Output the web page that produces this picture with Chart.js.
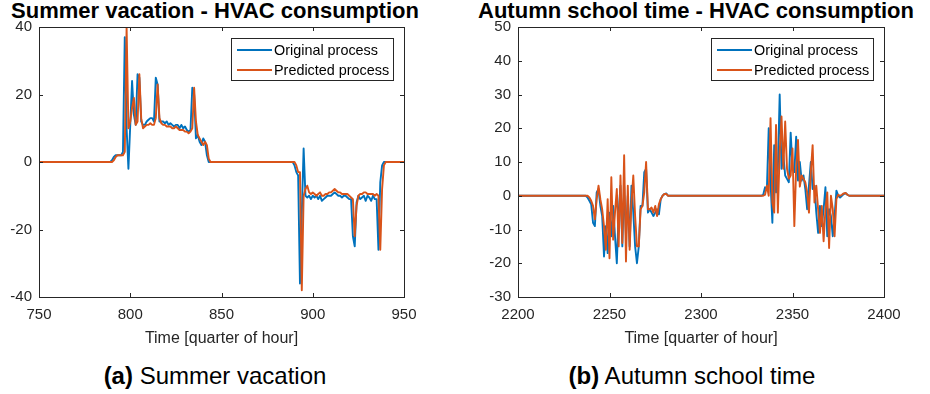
<!DOCTYPE html>
<html>
<head>
<meta charset="utf-8">
<script src="https://cdn.jsdelivr.net/npm/chart.js@4.4.1/dist/chart.umd.min.js"></script>
<style>
  html, body { margin: 0; padding: 0; background: #fff; }
  body { width: 930px; height: 394px; position: relative; overflow: hidden;
         font-family: "Liberation Sans", Arial, Helvetica, sans-serif; }
  canvas { position: absolute; top: 0; }
  .title { position: absolute; top: 0; font-weight: bold; font-size: 22px; line-height: 22px;
           color: #000; white-space: nowrap; transform: translateX(-50%); }
  .caption { position: absolute; top: 364px; font-size: 24px; line-height: 24px;
             color: #000; white-space: nowrap; transform: translateX(-50%); }
</style>
</head>
<body>
<div class="title" style="left:215px">Summer vacation - HVAC consumption</div>
<div class="title" style="left:696px">Autumn school time - HVAC consumption</div>
<div class="caption" style="left:215px"><b>(a)</b> Summer vacation</div>
<div class="caption" style="left:692px"><b>(b)</b> Autumn school time</div>
<canvas id="summer" width="440" height="394" style="left:0"></canvas>
<canvas id="autumn" width="490" height="394" style="left:440px"></canvas>
<script>
// ---- data -------------------------------------------------------------
const seriesNames = ['Original process', 'Predicted process'];
const seriesColors = ['#0072BD', '#D95319'];
const xAxisTitle = 'Time [quarter of hour]';

// Summer vacation, quarter-hours 750..950
const summerStart = 750;
const summerOriginal = [
  0,0,0,0,0,0,0,0,0,0, 0,0,0,0,0,0,0,0,0,0,
  0,0,0,0,0,0,0,0,0,0, 0,0,0,0,0,0,0,0,0,0,
  0.5,1.5,2,2,2,2,3,37,10,-2,
  11,24,14,11,26,25,12,11,11,12,
  12.5,13,13,12,25,23,12,12,12,11.5,
  12,11,11.5,11,10.5,11,11,10,11,10,
  10.5,9.5,9,9.5,22,20,7,8,6,5,
  7,6,2,0,0,0,0,0,0,0,
  0,0,0,0,0,0,0,0,0,0, 0,0,0,0,0,0,0,0,0,0,
  0,0,0,0,0,0,0,0,0,0, 0,0,0,0,0,0,0,0,0,0,
  -1,-3,-4,-36,-15,4,-10,-10.5,-10,-11,
  -10,-10.5,-10,-11,-10,-11.5,-11,-10.5,-10,-10,
  -10,-9.5,-9,-9.5,-10,-10,-10.5,-10,-10,-10.5,
  -11,-11,-22,-25,-12,-10,-11,-10.5,-10,-11.5,
  -10,-10.5,-11.5,-10,-11,-11,-26,-6,-1,0,
  0,0,0,0,0,0,0,0,0,0,0
];
const summerPredicted = [
  0,0,0,0,0,0,0,0,0,0, 0,0,0,0,0,0,0,0,0,0,
  0,0,0,0,0,0,0,0,0,0, 0,0,0,0,0,0,0,0,0,0,
  0,0.5,1.5,2,2,2,2,3,40,10,
  12,16,19,11,12,26,13,10,10.5,11,
  11,11.5,11,11,13,23,13,11.5,11,11,
  10.5,10.5,10.5,10,10,10.5,10,9.5,9.5,9.5,
  9,9,8.5,9,10,22,12,8,7,6,
  5,6,5,1,0,0,0,0,0,0,
  0,0,0,0,0,0,0,0,0,0, 0,0,0,0,0,0,0,0,0,0,
  0,0,0,0,0,0,0,0,0,0, 0,0,0,0,0,0,0,0,0,0,
  0,-1,-3,-3,-38,-10,-8,-7,-9,-9.5,
  -9,-9.5,-10,-9.5,-9,-10,-10,-9.5,-9.5,-9,
  -9,-8.5,-8,-8.5,-9,-9,-9.5,-9.5,-9.5,-9.5,
  -10,-10.5,-11,-22,-13,-10,-9.5,-9.5,-9,-9,
  -9.5,-9.5,-9.5,-9.5,-10,-9.5,-10,-26,-8,-1,
  0,0,0,0,0,0,0,0,0,0,0
];
const summerXTicks = [750, 800, 850, 900, 950];
const summerYTicks = [-40, -20, 0, 20, 40];

// Autumn school time, quarter-hours 2200..2400
const autumnStart = 2200;
const autumnOriginal = [
  0,0,0,0,0,0,0,0,0,0, 0,0,0,0,0,0,0,0,0,0, 0,0,0,0,0,0,0,0,0,0,
  0,0,0,0,0,0,0,0,
  -0.5,-1.5,-2.5,-8,-9,1,2,-3,-6,-18,
  -9,-17,-5,-12,-3,-12,-20,-5,3,-15,
  3,-12,0,-15,3,-5,-15,-20,-15,-3,
  -3,7,8,-5,-4,-5,-6,-5,-4,-5.5,
  -1,0,0.5,0.7,0,
  0,0,0,0,0,0,0,0,0,0, 0,0,0,0,0,0,0,0,0,0, 0,0,0,0,0,0,0,0,0,0,
  0,0,0,0,0,0,0,0,0,0, 0,0,0,0,0,0,0,0,0,0,
  0,0.3,2.5,2,20,4,-8,15,1,8,
  30,8,12,6,5,4,18.7,8,7,17.5,
  4.5,10,4.5,6,2,-4,3,10,2,3,
  -5,-11,-3,-9,-4,2.5,-12,-4,-6,-12,
  -6,1.5,0,-0.5,0,0.5,0.8,0.3,0,
  0,0,0,0,0,0,0,0,0,0, 0,0,0,0,0,0,0,0,0
];
const autumnPredicted = [
  0,0,0,0,0,0,0,0,0,0, 0,0,0,0,0,0,0,0,0,0, 0,0,0,0,0,0,0,0,0,0,
  0,0,0,0,0,0,0,0,
  0,-0.5,-1.5,-3,-7,-1,3,-1,-4,-9,
  -16,-1,-18.5,5.5,-13,-5,2,-15,6,-14,
  12,-19.5,3,-16,-2,6,-6,-15,-15,-4,
  -3,1,10,-4,-4,-3.5,-5,-3,-6,-2.5,
  -1,0,0.5,0.5,0,
  0,0,0,0,0,0,0,0,0,0, 0,0,0,0,0,0,0,0,0,0, 0,0,0,0,0,0,0,0,0,0,
  0,0,0,0,0,0,0,0,0,0, 0,0,0,0,0,0,0,0,0,0, 0,
  0,0.3,3,0,23,-2,-5,21,-5,13,
  23.5,8,22,8,5,6,14,-9,8,16.5,
  2.7,6,5,4,1,-5,7,15,-2,3,
  -4,-11,-3,-13.5,-4,1,-15.5,0,-4,-12,
  -1,0.3,0,0.3,0.7,0.8,0.3,0,
  0,0,0,0,0,0,0,0,0,0, 0,0,0,0,0,0,0,0,0
];
const autumnXTicks = [2200, 2250, 2300, 2350, 2400];
const autumnYTicks = [-30, -20, -10, 0, 10, 20, 30, 40, 50];

// ---- drawing helpers --------------------------------------------------
const FONT = '"Liberation Sans", Arial, Helvetica, sans-serif';
const INK = '#262626';

// Boxed axes with inward tick marks on all four sides
const axesBox = {
  id: 'axesBox',
  afterDatasetsDraw(chart) {
    const { ctx, chartArea: a, scales: { x, y } } = chart;
    const len = 4;
    ctx.save();
    ctx.strokeStyle = INK;
    ctx.lineWidth = 1;
    ctx.strokeRect(a.left + 0.5, a.top + 0.5, a.right - a.left, a.bottom - a.top);
    ctx.beginPath();
    x.ticks.forEach(t => {
      const px = Math.round(x.getPixelForValue(t.value)) + 0.5;
      ctx.moveTo(px, a.bottom); ctx.lineTo(px, a.bottom - len);
      ctx.moveTo(px, a.top); ctx.lineTo(px, a.top + len);
    });
    y.ticks.forEach(t => {
      const py = Math.round(y.getPixelForValue(t.value)) + 0.5;
      ctx.moveTo(a.left, py); ctx.lineTo(a.left + len, py);
      ctx.moveTo(a.right, py); ctx.lineTo(a.right - len, py);
    });
    ctx.stroke();
    ctx.restore();
  }
};

// Legend box in the upper-right corner of the plot area
const cornerLegend = {
  id: 'cornerLegend',
  afterDatasetsDraw(chart) {
    const { ctx, chartArea: a } = chart;
    const w = 162, h = 42;
    const right = a.right - 11, left = right - w, top = a.top + 11;
    ctx.save();
    ctx.fillStyle = '#fff';
    ctx.fillRect(left, top, w, h);
    ctx.strokeStyle = INK;
    ctx.lineWidth = 1;
    ctx.strokeRect(left + 0.5, top + 0.5, w, h);
    ctx.font = '14.4px ' + FONT;
    ctx.textBaseline = 'middle';
    ctx.textAlign = 'left';
    chart.data.datasets.forEach((ds, i) => {
      const cy = top + 13 + i * 20;
      ctx.strokeStyle = ds.borderColor;
      ctx.lineWidth = 2;
      ctx.beginPath();
      ctx.moveTo(left + 6, cy - 1);
      ctx.lineTo(left + 41, cy - 1);
      ctx.stroke();
      ctx.fillStyle = '#000';
      ctx.fillText(ds.label, left + 43, cy);
    });
    ctx.restore();
  }
};

function toPoints(start, values) {
  return values.map((v, i) => ({ x: start + i, y: v }));
}

function makeChart(id, cfg) {
  return new Chart(document.getElementById(id), {
    type: 'line',
    data: {
      datasets: [
        { label: seriesNames[0], data: toPoints(cfg.start, cfg.original),
          borderColor: seriesColors[0], order: 2 },
        { label: seriesNames[1], data: toPoints(cfg.start, cfg.predicted),
          borderColor: seriesColors[1], order: 1 }
      ]
    },
    options: {
      responsive: false,
      animation: false,
      devicePixelRatio: 1,
      layout: { padding: { left: 0, right: cfg.padRight, top: 27, bottom: 0 } },
      elements: {
        point: { radius: 0 },
        line: { tension: 0, borderWidth: 1.9, borderJoinStyle: 'round', borderCapStyle: 'round', fill: false }
      },
      plugins: { legend: { display: false }, tooltip: { enabled: false } },
      scales: {
        x: {
          type: 'linear',
          min: cfg.xTicks[0], max: cfg.xTicks[cfg.xTicks.length - 1],
          afterBuildTicks: s => { s.ticks = cfg.xTicks.map(v => ({ value: v })); },
          afterFit: s => { s.height = 97; },
          grid: { display: false, drawTicks: false },
          border: { display: false },
          ticks: { color: INK, font: { family: FONT, size: 15 }, padding: 9,
                   maxRotation: 0, autoSkip: false, callback: v => String(v) },
          title: { display: true, text: xAxisTitle, color: INK,
                   font: { family: FONT, size: 16 }, padding: { top: 0, bottom: 46 } }
        },
        y: {
          type: 'linear',
          min: cfg.yTicks[0], max: cfg.yTicks[cfg.yTicks.length - 1],
          afterBuildTicks: s => { s.ticks = cfg.yTicks.map(v => ({ value: v })); },
          afterFit: s => { s.width = cfg.yWidth; },
          grid: { display: false, drawTicks: false },
          border: { display: false },
          ticks: { color: INK, font: { family: FONT, size: 15 }, padding: 7,
                   autoSkip: false, callback: v => String(v) }
        }
      }
    },
    plugins: [axesBox, cornerLegend]
  });
}

makeChart('summer', {
  start: summerStart, original: summerOriginal, predicted: summerPredicted,
  xTicks: summerXTicks, yTicks: summerYTicks, yWidth: 39, padRight: 36
});
makeChart('autumn', {
  start: autumnStart, original: autumnOriginal, predicted: autumnPredicted,
  xTicks: autumnXTicks, yTicks: autumnYTicks, yWidth: 78, padRight: 46
});
</script>
</body>
</html>
